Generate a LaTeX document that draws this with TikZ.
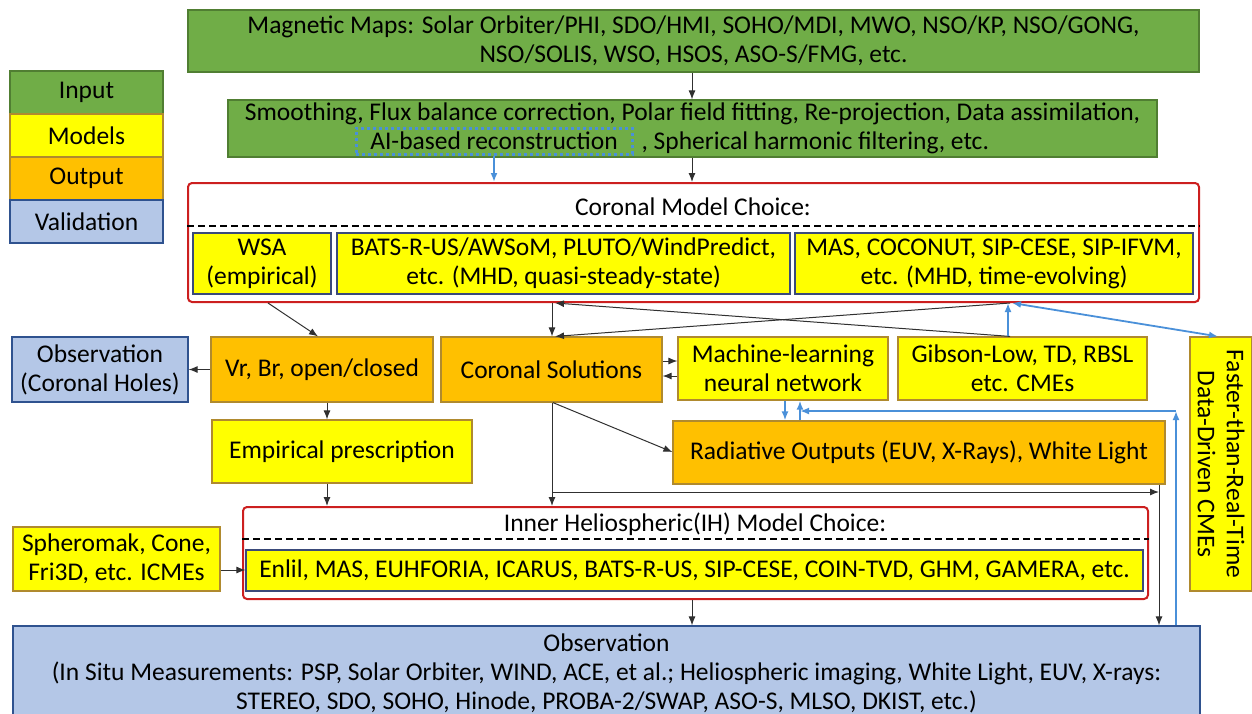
\documentclass[tikz,border=0pt]{standalone}
\usepackage{fontspec}
\setmainfont{Carlito}
\usepackage{tikz}
\usetikzlibrary{arrows.meta}

\definecolor{ingreen}{HTML}{70AD47}
\definecolor{ingreenline}{HTML}{507E32}
\definecolor{modyellow}{HTML}{FFFF00}
\definecolor{outorange}{HTML}{FFC000}
\definecolor{boxbrown}{HTML}{B08A2E}
\definecolor{valblue}{HTML}{B4C7E7}
\definecolor{valline}{HTML}{2F528F}
\definecolor{innerline}{HTML}{3A4A7A}
\definecolor{choicered}{HTML}{CC1F1F}
\definecolor{aiblue}{HTML}{4A90D9}
\definecolor{connblack}{HTML}{303030}

\tikzset{
  box/.style={draw, line width=1.2pt, inner sep=0pt, align=center},
  inbox/.style={box, fill=ingreen, draw=ingreenline},
  modbox/.style={box, fill=modyellow, draw=boxbrown},
  inmod/.style={box, fill=modyellow, draw=innerline},
  outbox/.style={box, fill=outorange, draw=boxbrown},
  valbox/.style={box, fill=valblue, draw=valline},
  choice/.style={draw=choicered, line width=2pt, rounded corners=4pt, inner sep=0pt},
  aibox/.style={draw=aiblue, line width=3pt, dash pattern=on 3pt off 3pt, inner sep=0pt},
  dashline/.style={line width=1.6pt, dash pattern=on 7pt off 4pt},
  conn/.style={draw=connblack, line width=1pt, -{Latex[length=9pt,width=7pt]}},
  aiconn/.style={draw=aiblue, line width=1.8pt, -{Latex[length=9pt,width=7pt]}},
}

\begin{document}
\begin{tikzpicture}[x=1pt,y=-1pt,font=\fontsize{25.5}{29}\selectfont]
\clip (0,0) rectangle (1252,713);

% legend
\node[inbox, minimum width=153pt, minimum height=43pt] (leg-in) at (86.5,92.5) {Input};
\node[modbox, minimum width=153pt, minimum height=43pt] (leg-mod) at (86.5,135.5) {Models};
\node[outbox, minimum width=153pt, minimum height=43pt] (leg-out) at (86.5,178.5) {Output};
\node[valbox, minimum width=153pt, minimum height=43pt] (leg-val) at (86.5,221.5) {Validation};

% input
\node[inbox, minimum width=1011pt, minimum height=62pt] (magmaps) at (693.5,41)
  {Magnetic Maps: Solar Orbiter/PHI, SDO/HMI, SOHO/MDI, MWO, NSO/KP, NSO/GONG,\\NSO/SOLIS, WSO, HSOS, ASO-S/FMG, etc.};
\node[inbox, minimum width=929pt, minimum height=57pt] (prep) at (692.5,128.5) {};
\node (prep-a) at (692.5,114) {Smoothing, Flux balance correction, Polar field fitting, Re-projection, Data assimilation,};
\node[aibox, minimum width=276pt, minimum height=26pt] (airec) at (494,141) {AI-based reconstruction};
\node[anchor=west] (prep-b) at (638,143) {, Spherical harmonic filtering, etc.};

% coronal models
\node[choice, minimum width=1011pt, minimum height=119pt] (coronal) at (693.5,242.5) {};
\node (coronal-title) at (693,207) {Coronal Model Choice:};
\draw[dashline] (coronal.west |- 0,226) -- (coronal.east |- 0,226);
\node[inmod, minimum width=138pt, minimum height=61pt] (wsa) at (262,263.5) {WSA\\(empirical)};
\node[inmod, minimum width=453pt, minimum height=61pt] (bats) at (563.5,263.5)
  {BATS-R-US/AWSoM, PLUTO/WindPredict,\\etc. (MHD, quasi-steady-state)};
\node[inmod, minimum width=398pt, minimum height=61pt] (mas) at (994,263.5)
  {MAS, COCONUT, SIP-CESE, SIP-IFVM,\\etc. (MHD, time-evolving)};

% middle row
\node[valbox, minimum width=176pt, minimum height=65pt] (obsch) at (100,369.5) {Observation\\(Coronal Holes)};
\node[outbox, minimum width=222pt, minimum height=65pt] (vrbr) at (322,369.5) {Vr, Br, open/closed};
\node[outbox, minimum width=221pt, minimum height=65pt] (corsol) at (551.5,369.5) {Coronal Solutions};
\node[modbox, minimum width=210pt, minimum height=63pt] (mlnn) at (783,368.5) {Machine-learning\\neural network};
\node[modbox, minimum width=249pt, minimum height=63pt] (gibson) at (1022.5,368.5) {Gibson-Low, TD, RBSL\\etc. CMEs};
\node[modbox, minimum width=62pt, minimum height=254pt] (fastcme) at (1221,464) {};
\node[rotate=-90, align=center] (fastcme-text) at (fastcme.center) {Faster-than-Real-Time\\Data-Driven CMEs};

\node[modbox, minimum width=260pt, minimum height=63pt] (emp) at (342,451.5) {Empirical prescription};
\node[outbox, minimum width=492pt, minimum height=63pt] (rad) at (919,452.5) {Radiative Outputs (EUV, X-Rays), White Light};

% inner heliosphere
\node[choice, minimum width=905pt, minimum height=92pt] (ih) at (695.5,553) {};
\node (ih-title) at (695,524) {Inner Heliospheric(IH) Model Choice:};
\draw[dashline] (ih.west |- 0,539) -- (ih.east |- 0,539);
\node[inmod, minimum width=897pt, minimum height=41pt] (ihmods) at (694.5,570.5)
  {Enlil, MAS, EUHFORIA, ICARUS, BATS-R-US, SIP-CESE, COIN-TVD, GHM, GAMERA, etc.};
\node[modbox, minimum width=207pt, minimum height=64pt] (sphero) at (116.5,559) {Spheromak, Cone,\\Fri3D, etc. ICMEs};

\node[valbox, minimum width=1187pt, minimum height=94pt] (obs) at (606.5,673)
  {Observation\\(In Situ Measurements: PSP, Solar Orbiter, WIND, ACE, et al.; Heliospheric imaging, White Light, EUV, X-rays:\\STEREO, SDO, SOHO, Hinode, PROBA-2/SWAP, ASO-S, MLSO, DKIST, etc.)};

% connectors
\draw[conn] (magmaps.south -| 692,0) -- (prep.north -| 692,0);
\draw[aiconn] (airec.south) -- (airec.south |- coronal.north);
\draw[conn] (prep.south -| 692,0) -- (coronal.north -| 692,0);
\draw[conn] (coronal.south -| 268,0) -- (vrbr.north -| 318,0);
\draw[conn] (coronal.south -| 552,0) -- (corsol.north -| 552,0);
\draw[conn] (gibson.north -| 1010,0) -- (coronal.south -| 555,0);
\draw[conn] (coronal.south -| 1010,0) -- (corsol.north -| 555,0);
\draw[aiconn] (gibson.north -| 1008,0) -- (coronal.south -| 1008,0);
\draw[aiconn, {Latex[length=9pt,width=7pt]}-{Latex[length=9pt,width=7pt]}] (coronal.south -| 1012,0) -- (fastcme.north -| 1218,0);
\draw[conn] (corsol.east |- 0,361) -- (mlnn.west |- 0,361);
\draw[conn] (mlnn.west |- 0,376) -- (corsol.east |- 0,376);
\draw[conn] (vrbr.west) -- (obsch.east);
\draw[conn] (vrbr.south -| 327,0) -- (emp.north -| 327,0);
\draw[conn] (emp.south -| 327,0) -- (ih.north -| 327,0);
\draw[conn] (corsol.south -| 553,0) -- (rad.west |- 0,452);
\draw[conn] (corsol.south -| 552,0) -- (ih.north -| 552,0);
\coordinate (branch) at (552,492);
\coordinate (radleg) at (1159,492);
\draw[conn] (branch) -- (radleg);
\draw[conn] (rad.south -| radleg) -- (obs.north -| radleg);
\draw[conn] (ih.south -| 692,0) -- (obs.north -| 692,0);
\draw[conn] (sphero.east |- 0,570) -- (ihmods.west |- 0,570);
\draw[aiconn] (mlnn.south -| 785,0) -- (rad.north -| 785,0);
\draw[aiconn] (rad.north -| 800,0) -- (mlnn.south -| 800,0);
\coordinate (fbturn) at (1176,411);
\coordinate (mlup) at (800,411);
\draw[aiconn] (obs.north -| fbturn) -- (fbturn);
\draw[aiconn] (fbturn) -- (mlup);
\end{tikzpicture}
\end{document}
